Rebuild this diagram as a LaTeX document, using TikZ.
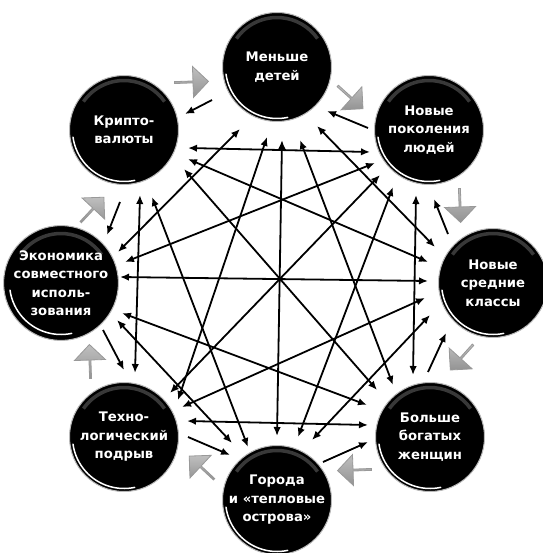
\documentclass[tikz,border=0pt]{standalone}
\usepackage{fontspec}
\newfontfamily\ballfont{DejaVu Sans Bold}
\usetikzlibrary{arrows.meta,shapes.arrows,calc}
\begin{document}
\begin{tikzpicture}[x=1pt,y=-1pt,
  ball/.style={circle, minimum size=109pt, inner sep=0pt, fill=black, draw=gray!55, line width=1pt,
    text=white, font=\ballfont\fontsize{13.2}{18.5}\selectfont, align=center,
    path picture={
      \coordinate (pc) at (path picture bounding box.center);
      \draw[black!72, line width=3.5pt, opacity=0.8] (pc) ++(215:49.5) arc (215:325:49.5);
      \draw[white, line width=1.5pt, line cap=round] (pc) ++(78:51.5) arc (78:172:51.5);
    }},
  dbl/.style={line width=1.8pt, {Latex[length=9pt,width=7.5pt]}-{Latex[length=9pt,width=7.5pt]}},
  one/.style={line width=1.8pt, -{Latex[length=9pt,width=7.5pt]}},
  garrow/.style={single arrow, minimum height=34pt, minimum width=31pt, single arrow head extend=6pt,
    inner sep=0pt, draw=gray!80, line width=0.8pt, top color=gray!50, bottom color=gray!85}
]
\useasboundingbox (0,0) rectangle (542,553);

\node[ball] (n0) at (277,67) {Меньше\\детей};
\node[ball] (n1) at (429,130) {Новые\\поколения\\людей};
\node[ball] (n2) at (493,283) {Новые\\средние\\классы};
\node[ball] (n3) at (430,437) {Больше\\богатых\\женщин};
\node[ball] (n4) at (277,500) {Города\\и «тепловые\\острова»};
\node[ball] (n5) at (124,437) {Техно-\\логический\\подрыв};
\node[ball] (n6) at (61,283) {Экономика\\совместного\\исполь-\\зования};
\node[ball] (n7) at (124,130) {Крипто-\\валюты};

\node[garrow, rotate=2] (g70) at (191,82) {};
\node[garrow, rotate=-42] (g01) at (350,97) {};
\node[garrow, rotate=-88] (g12) at (460,205) {};
\node[garrow, rotate=-132] (g23) at (462,357) {};
\node[garrow, rotate=-178] (g34) at (355,470) {};
\node[garrow, rotate=137] (g45) at (202,468) {};
\node[garrow, rotate=92] (g56) at (90,362) {};
\node[garrow, rotate=47] (g67) at (92,210) {};

\draw[dbl] ([shift={(64,18)}]n7.center) -- ([shift={(-59,22)}]n1.center);
\draw[dbl] ([shift={(64,29)}]n7.center) -- ([shift={(-65,-21)}]n2.center);
\draw[dbl] ([shift={(60,39)}]n7.center) -- ([shift={(-53,-47)}]n3.center);
\draw[dbl] ([shift={(28,67)}]n7.center) -- ([shift={(-29,-53)}]n4.center);
\draw[dbl] ([shift={(16,65)}]n7.center) -- ([shift={(11,-64)}]n5.center);
\draw[dbl] ([shift={(40,59)}]n0.center) -- ([shift={(-58,-36)}]n2.center);
\draw[dbl] ([shift={(23,73)}]n0.center) -- ([shift={(-37,-52)}]n3.center);
\draw[dbl] ([shift={(5,73)}]n0.center) -- ([shift={(0,-64)}]n4.center);
\draw[dbl] ([shift={(-10,70)}]n0.center) -- ([shift={(54,-37)}]n5.center);
\draw[dbl] ([shift={(-37,62)}]n0.center) -- ([shift={(57,-31)}]n6.center);
\draw[dbl] ([shift={(-13,65)}]n1.center) -- ([shift={(-17,-62)}]n3.center);
\draw[dbl] ([shift={(-36,57)}]n1.center) -- ([shift={(21,-63)}]n4.center);
\draw[dbl] ([shift={(-49,45)}]n1.center) -- ([shift={(46,-44)}]n5.center);
\draw[dbl] ([shift={(-54,33)}]n1.center) -- ([shift={(64,-21)}]n6.center);
\draw[dbl] ([shift={(-63,32)}]n2.center) -- ([shift={(35,-60)}]n4.center);
\draw[dbl] ([shift={(-68,15)}]n2.center) -- ([shift={(58,-30)}]n5.center);
\draw[dbl] ([shift={(-65,-2)}]n2.center) -- ([shift={(59,-6)}]n6.center);
\draw[dbl] ([shift={(-62,-12)}]n3.center) -- ([shift={(63,-16)}]n5.center);
\draw[dbl] ([shift={(-63,-32)}]n3.center) -- ([shift={(61,30)}]n6.center);
\draw[dbl] ([shift={(-45,-57)}]n4.center) -- ([shift={(56,37)}]n6.center);

\draw[one] ([shift={(-65,33)}]n0.center) -- ([shift={(61,-16)}]n7.center);
\draw[one] ([shift={(-61,-2)}]n1.center) -- ([shift={(50,44)}]n0.center);
\draw[one] ([shift={(-45,-49)}]n2.center) -- ([shift={(5,69)}]n1.center);
\draw[one] ([shift={(-2,-65)}]n3.center) -- ([shift={(-47,50)}]n2.center);
\draw[one] ([shift={(46,-38)}]n4.center) -- ([shift={(-62,5)}]n3.center);
\draw[one] ([shift={(64,0)}]n5.center) -- ([shift={(-47,-45)}]n4.center);
\draw[one] ([shift={(42,47)}]n6.center) -- ([shift={(0,-67)}]n5.center);
\draw[one] ([shift={(-4,72)}]n7.center) -- ([shift={(46,-48)}]n6.center);
\end{tikzpicture}
\end{document}
